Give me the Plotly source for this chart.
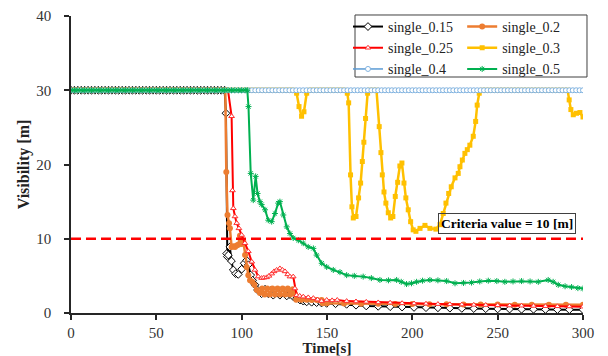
import plotly.graph_objects as go

PLATEAU = 30.0
CRITERIA = 10.0

# ---- single_0.15 (black) ----
t_015 = list(range(0, 90, 2)) + [90.0, 90.8, 91.2, 91.6, 92.2, 93.1, 94.0, 95.1, 96.5, 98.0, 100.0, 101.5,
        102.9, 103.9, 105.3, 106.4, 107.8, 109.3, 111.7, 113.7, 115.6, 117.0, 118.5, 120.5, 122.4, 124.4,
        126.4, 128.3, 130.2, 132.2, 134.2, 136.1, 138.1, 141.0, 143.9, 146.8, 149.8, 155.0, 161.5, 167.0,
        173.0, 180.0, 187.0, 194.0, 201.0, 208.0, 215.0, 222.0, 229.0, 236.0, 243.0, 250.0, 257.0, 264.0,
        271.0, 278.0, 285.0, 292.0, 300.0]
v_015 = [PLATEAU] * 45 + [30.0, 26.9, 8.0, 7.6, 7.8, 8.9, 7.0, 5.8, 5.3, 5.2, 5.9, 6.7,
        7.1, 6.5, 5.1, 4.4, 3.8, 3.1, 2.6, 3.2, 2.6, 3.0, 2.4, 2.9, 2.4, 2.7,
        2.3, 2.5, 2.2, 2.0, 1.75, 1.6, 1.5, 1.45, 1.4, 1.35, 1.3, 1.25, 1.17, 1.05,
        0.95, 0.9, 0.85, 0.8, 0.75, 0.72, 0.7, 0.65, 0.62, 0.6, 0.58, 0.55, 0.53, 0.5,
        0.5, 0.48, 0.46, 0.45, 0.45]

# ---- single_0.2 (orange) ----
t_02 = list(range(0, 90, 2)) + [90.4, 91.0, 91.7, 92.6, 93.1, 94.1, 95.1, 96.1, 97.1, 98.0, 99.0, 100.0,
       101.0, 102.0, 102.9, 103.9, 104.9, 106.2, 107.4, 108.8, 110.7, 112.0, 113.5, 115.0, 116.5, 118.0,
       119.5, 121.0, 122.5, 124.0, 125.5, 127.0, 128.5, 130.0, 131.2, 132.0, 135.0, 138.0, 141.0, 144.0,
       146.8, 147.5, 150.0, 160.0, 170.0, 180.0, 190.0, 200.0, 210.0, 220.0, 230.0, 240.0, 250.0, 260.0,
       270.0, 280.0, 290.0, 300.0]
v_02 = [PLATEAU] * 45 + [30.0, 19.0, 13.2, 12.1, 11.4, 8.9, 9.0, 8.9, 9.1, 9.2, 10.4, 9.3,
       9.6, 7.8, 6.2, 5.1, 4.4, 4.2, 3.8, 3.1, 2.7, 3.3, 2.5, 3.3, 2.5, 3.3,
       2.5, 3.3, 2.5, 3.3, 2.5, 3.3, 2.5, 3.2, 2.6, 1.8, 1.8, 1.8, 1.75, 1.75,
       1.75, 1.3, 1.3, 1.28, 1.25, 1.23, 1.2, 1.2, 1.18, 1.17, 1.15, 1.15, 1.13, 1.12,
       1.12, 1.1, 1.1, 1.1]

# ---- single_0.25 (red) ----
t_025 = list(range(0, 94, 2)) + [94.1, 94.6, 95.1, 96.1, 97.1, 98.4, 100.0, 101.9, 103.9, 105.9, 107.8,
        109.7, 111.7, 113.0, 114.6, 116.0, 117.6, 119.0, 120.5, 122.4, 123.9, 125.4, 127.0, 128.3, 130.2,
        131.2, 132.2, 134.0, 136.1, 139.0, 142.0, 144.5, 146.8, 149.8, 153.0, 156.0, 161.5, 167.0, 173.0,
        180.0, 187.0, 194.0, 201.0, 208.0, 215.0, 222.0, 229.0, 236.0, 243.0, 250.0, 257.0, 264.0, 271.0,
        278.0, 285.0, 292.0, 300.0]
v_025 = [PLATEAU] * 47 + [26.5, 16.5, 14.1, 13.0, 12.1, 11.4, 10.5, 9.4, 8.3, 6.9, 5.8,
        4.9, 4.7, 4.75, 4.8, 5.0, 5.3, 5.6, 5.8, 6.0, 5.8, 5.6, 5.2, 4.9, 4.9,
        3.3, 2.4, 2.3, 2.2, 2.1, 2.0, 1.8, 1.6, 1.75, 1.7, 1.75, 1.6, 1.55, 1.5,
        1.42, 1.38, 1.32, 1.28, 1.25, 1.2, 1.17, 1.13, 1.1, 1.07, 1.04, 1.0, 0.98, 0.95,
        0.92, 0.9, 0.88, 0.85]

# ---- single_0.3 (yellow) ----
t_03 = (list(range(0, 132, 2)) + [132.2, 133.6, 135.1, 136.5, 138.1]
        + list(range(140, 162, 2)) + [161.9, 162.7, 163.8, 164.6, 165.4, 167.0, 168.5, 169.7, 170.7,
        171.6, 172.6, 173.8, 175.0, 177.0, 179.0, 180.6, 181.6, 182.4, 183.4, 184.5, 185.9, 187.3,
        188.6, 190.0, 191.4, 192.7, 193.9, 195.1, 196.2, 197.6, 199.0, 200.5, 202.1, 204.5, 207.4,
        210.3, 213.8, 216.2, 218.1, 219.7, 221.3, 222.8, 225.0, 226.9, 227.9, 229.3, 230.8, 232.2,
        233.7, 235.7, 237.1, 238.0, 239.2]
        + list(range(241, 292, 2)) + [291.9, 292.9, 294.3, 296.2, 298.2, 300.0])
v_03 = ([PLATEAU] * 66 + [29.6, 27.8, 26.5, 27.1, 29.6]
        + [PLATEAU] * 11 + [29.6, 28.3, 18.6, 14.3, 12.8, 13.0, 15.5, 17.5, 20.4,
        23.0, 26.2, 29.6, 30.0, 30.0, 30.0, 25.1, 21.6, 18.6, 16.3, 14.8, 13.5, 12.8,
        13.0, 15.7, 17.6, 19.8, 20.2, 17.5, 15.5, 13.9, 12.3, 11.2, 11.0, 11.4, 11.8,
        11.4, 11.3, 11.9, 13.4, 14.8, 16.1, 17.0, 18.2, 18.8, 19.7, 20.6, 21.5, 22.0,
        22.6, 23.8, 25.8, 28.0, 29.6]
        + [PLATEAU] * 26 + [28.7, 27.4, 26.7, 26.9, 27.0, 26.4])

# ---- single_0.4 (blue) ----
t_04 = list(range(0, 302, 2))
v_04 = [PLATEAU] * 151

# ---- single_0.5 (green) ----
t_05 = list(range(0, 103, 2)) + [103.3, 104.0, 105.3, 106.8, 108.2, 109.3, 110.7, 111.7, 113.7, 115.6,
       117.6, 119.5, 121.4, 122.4, 124.4, 126.4, 128.3, 130.2, 133.2, 136.1, 139.0, 142.0, 143.9, 146.9,
       149.8, 153.7, 157.6, 161.5, 166.0, 171.2, 176.0, 181.0, 186.0, 190.8, 193.5, 196.6, 199.5, 202.5,
       206.0, 210.3, 215.0, 220.1, 225.0, 230.0, 234.7, 239.5, 244.5, 249.5, 254.2, 259.0, 264.0, 269.0,
       273.8, 279.6, 282.5, 285.5, 289.5, 293.3, 297.0, 300.0]
v_05 = [PLATEAU] * 52 + [30.0, 27.8, 18.8, 15.2, 18.4, 16.1, 15.0, 14.6, 13.9, 12.5,
       12.3, 13.4, 14.8, 15.0, 13.2, 11.6, 10.7, 10.1, 9.8, 9.4, 8.9, 8.7, 7.8, 6.7,
       6.2, 5.8, 5.5, 5.1, 5.0, 4.9, 4.7, 4.45, 4.4, 4.45, 4.2, 3.9, 4.0, 4.2,
       4.35, 4.45, 4.4, 4.3, 4.0, 4.05, 4.1, 4.25, 4.35, 4.3, 4.2, 4.25, 4.3, 4.25,
       4.2, 4.45, 4.2, 3.8, 3.6, 3.5, 3.35, 3.3]

x_ticks = [0, 50, 100, 150, 200, 250, 300]
y_ticks = [0, 10, 20, 30, 40]

SERIF = "Liberation Serif"

series = [
    ("single_0.15", t_015, v_015, "#000000", 2, dict(symbol="diamond", size=6, color="white", line=dict(color="#000000", width=1)), "legend"),
    ("single_0.2", t_02, v_02, "#ED7D31", 2.5, dict(symbol="circle", size=6, color="#ED7D31", line=dict(width=0)), "legend2"),
    ("single_0.25", t_025, v_025, "#FF0000", 2, dict(symbol="triangle-up", size=5, color="white", line=dict(color="#FF3030", width=1)), "legend"),
    ("single_0.3", t_03, v_03, "#FFC000", 2.5, dict(symbol="square", size=5, color="#FFC000", line=dict(width=0)), "legend2"),
    ("single_0.4", t_04, v_04, "#5B9BD5", 1.5, dict(symbol="circle", size=5, color="white", line=dict(color="#7FB2E0", width=1)), "legend"),
    ("single_0.5", t_05, v_05, "#00B050", 2, dict(symbol="asterisk-open", size=5, line=dict(color="#3CC878", width=1)), "legend2"),
]

fig = go.Figure()
for name, t, v, col, lw, mk, lg in series:
    fig.add_trace(go.Scatter(x=t, y=v, name=name, mode="lines+markers",
                             line=dict(color=col, width=lw), marker=mk, legend=lg))

# criteria reference line
fig.add_shape(type="line", xref="x", yref="y", x0=0, x1=300, y0=CRITERIA, y1=CRITERIA,
              line=dict(color="#FF0000", width=2.5, dash="10px,5px"), layer="above")

# legend frame
fig.add_shape(type="rect", xref="paper", yref="paper", x0=0.5547, x1=1.0078, y0=0.7946, y1=1.0034,
              line=dict(color="#404040", width=1), fillcolor="white", layer="above")

fig.add_annotation(x=255.7, y=12.06, xref="x", yref="y", text="Criteria value = 10 [m]", showarrow=False,
                   font=dict(family=SERIF, size=13.5, color="#000000", weight="bold"),
                   bordercolor="#404040", borderwidth=1, borderpad=2)

legend_common = dict(orientation="v", yanchor="top", xanchor="left", bgcolor="rgba(0,0,0,0)",
                     borderwidth=0, itemwidth=30, font=dict(family=SERIF, size=14, color="#222222"),
                     tracegroupgap=0)

# page has an 8px body margin, so the figure is 8px smaller than the window
fig.update_layout(
    template="none",
    width=600, height=348,
    margin=dict(l=63, r=25, t=8, b=43, autoexpand=False),
    paper_bgcolor="white", plot_bgcolor="white",
    font=dict(family=SERIF, size=15, color="#333333"),
    showlegend=True,
    legend=dict(x=0.541, y=1.017, **legend_common),
    legend2=dict(x=0.764, y=1.017, **legend_common),
    xaxis=dict(range=[0, 300], tickvals=x_ticks, ticktext=[str(v) for v in x_ticks], automargin=False,
               showline=True, linecolor="#262626", linewidth=1.5, ticks="outside", ticklen=5,
               tickwidth=1.5, tickcolor="#262626", showgrid=False, zeroline=False,
               tickfont=dict(family=SERIF, size=15, color="#333333"), ticklabelstandoff=0,
               title=dict(text="Time[s]", font=dict(family=SERIF, size=15, color="#222222", weight="bold"), standoff=5)),
    yaxis=dict(range=[0, 40], tickvals=y_ticks, ticktext=[str(v) for v in y_ticks], automargin=False,
               showline=True, linecolor="#262626", linewidth=1.5, ticks="outside", ticklen=5,
               tickwidth=1.5, tickcolor="#262626", showgrid=False, zeroline=False,
               tickfont=dict(family=SERIF, size=15, color="#333333"), ticklabelstandoff=10,
               title=dict(text="Visibility [m]", font=dict(family=SERIF, size=16, color="#222222", weight="bold"), standoff=3)),
)

fig.write_html("out.html")
